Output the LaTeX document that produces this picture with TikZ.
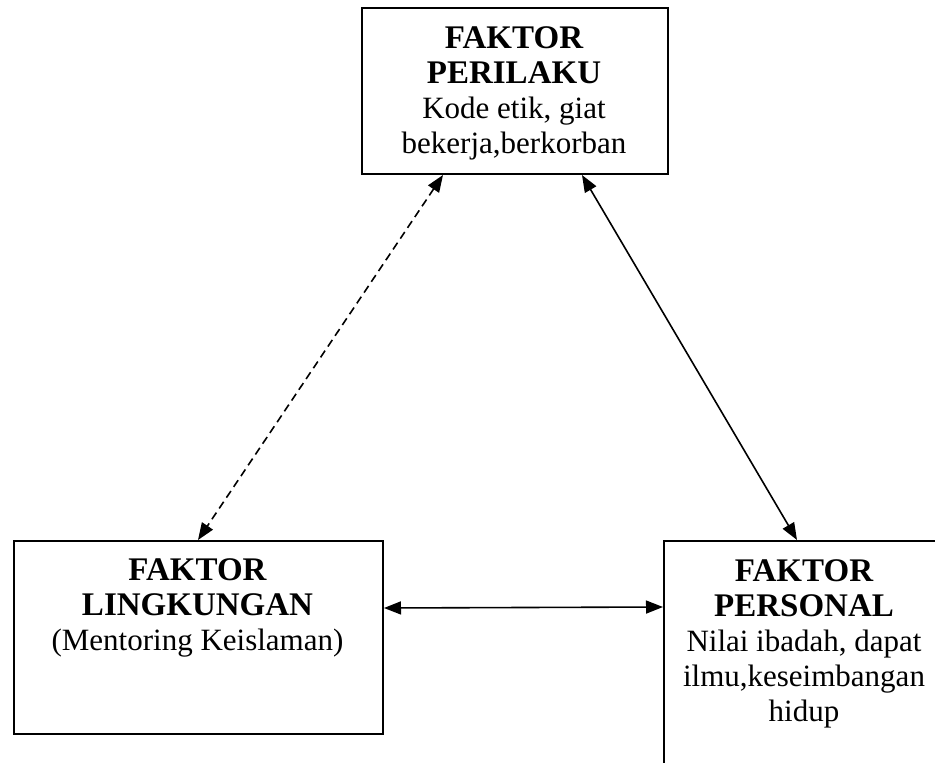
\documentclass[tikz,border=0pt]{standalone}
\usepackage{fontspec}
\setmainfont{Liberation Serif}
\usetikzlibrary{arrows.meta}
\newcommand{\headline}[1]{{\fontsize{33}{35}\selectfont\bfseries #1}}
\begin{document}
\begin{tikzpicture}[x=1pt,y=-1pt,
  factorbox/.style={draw, line width=2pt, inner sep=0pt, anchor=north west},
  boxtext/.style={anchor=north, inner sep=0pt, align=center,
                  font=\fontsize{31}{35}\selectfont},
  link/.style={line width=1.6pt, >={Triangle[length=17pt,width=13pt]}, <->},
  weaklink/.style={link, dash pattern=on 8pt off 5pt}
  ]
\clip (0,0) rectangle (935,763);

% the three factor boxes
\node[factorbox, minimum width=306pt, minimum height=166pt] (perilaku) at (361,7) {};
\node[factorbox, minimum width=369pt, minimum height=193pt] (lingkungan) at (13,540) {};
\node[factorbox, minimum width=282pt, minimum height=250pt] (personal) at (663,540) {};

% their captions
\node[boxtext] (perilakutext) at (514,26.5)
  {\headline{FAKTOR}\\\headline{PERILAKU}\\Kode etik, giat\\bekerja,berkorban};
\node[boxtext] (lingkungantext) at (197.5,558)
  {\headline{FAKTOR}\\\headline{LINGKUNGAN}\\(Mentoring Keislaman)};
\node[boxtext] (personaltext) at (804,559.5)
  {\headline{FAKTOR}\\\headline{PERSONAL}\\Nilai ibadah, dapat\\ilmu,keseimbangan\\hidup};

% links between the factors
\draw[weaklink] ([xshift=82pt]perilaku.south west) -- ([xshift=185pt]lingkungan.north west);
\draw[link] ([xshift=221pt]perilaku.south west) -- ([xshift=134pt]personal.north west);
\draw[link] ([yshift=29.5pt]lingkungan.east) -- ([yshift=-67pt]personal.north west);
\end{tikzpicture}
\end{document}
